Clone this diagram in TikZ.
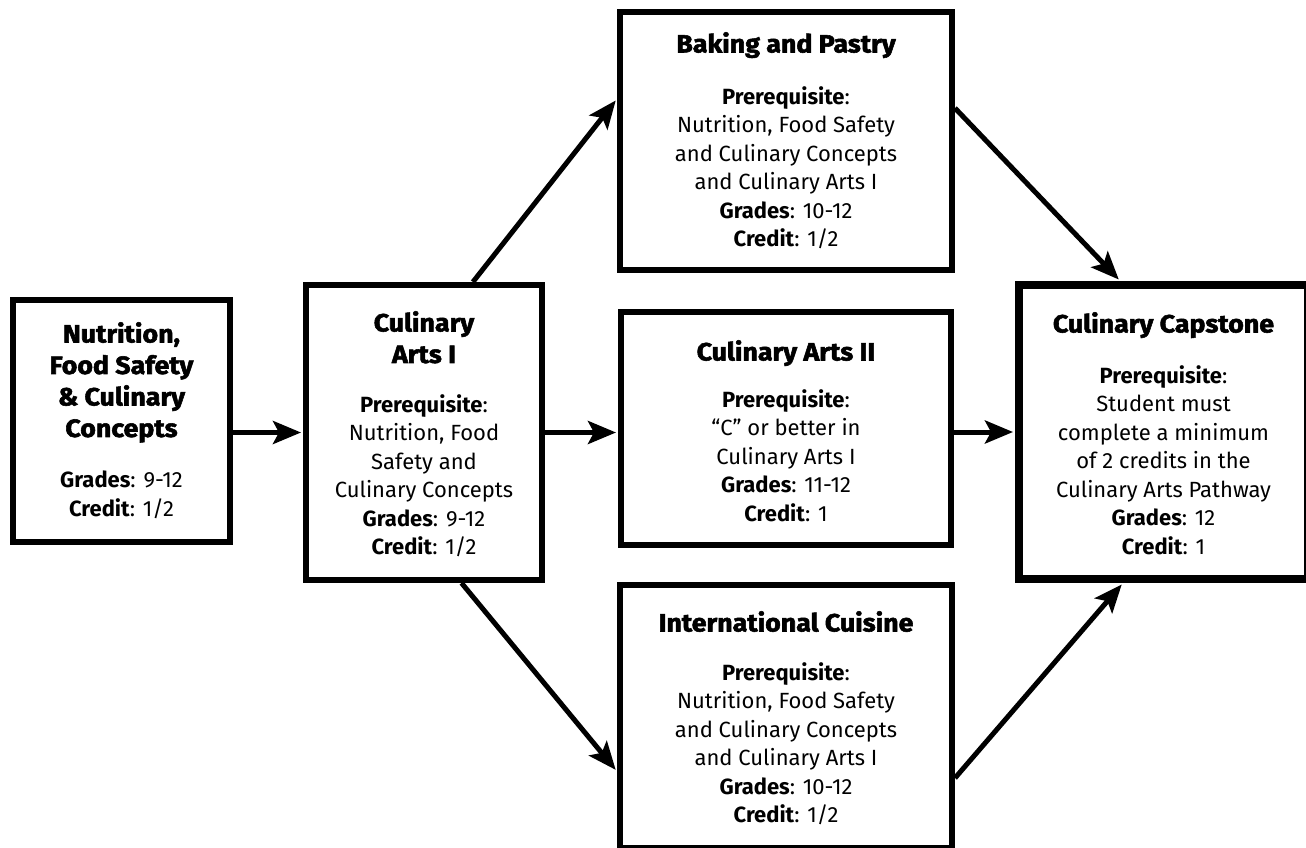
\documentclass[tikz,border=0pt]{standalone}
\usepackage{fontspec}
\setmainfont{Fira Sans}
\newfontfamily\heavyfont{Fira Sans}[BoldFeatures={FakeBold=2.2, FakeStretch=1.07}]
\usetikzlibrary{arrows.meta}
\begin{document}
\begin{tikzpicture}[x=1pt,y=-1pt,
  box/.style={draw, line width=6pt, inner sep=0pt},
  capbox/.style={draw, line width=8pt, inner sep=0pt},
  ttl/.style={anchor=north, inner sep=0pt, align=center, font=\heavyfont\bfseries\fontsize{25}{31.5}\selectfont},
  bdy/.style={anchor=north, inner sep=0pt, align=center, font=\fontsize{22}{28.5}\selectfont},
  arr/.style={line width=5pt, shorten >=2pt, -{Stealth[length=28pt,width=23pt,inset=6pt]}}]
\useasboundingbox (0,0) rectangle (1306,848);
% boxes
\node[box, minimum width=217pt, minimum height=242pt] (b1) at (121.5,421) {};
\node[box, minimum width=236pt, minimum height=295pt] (ca1) at (424,432.5) {};
\node[box, minimum width=332pt, minimum height=258pt] (bak) at (786,141) {};
\node[box, minimum width=330pt, minimum height=233pt] (ca2) at (786,428.5) {};
\node[box, minimum width=332pt, minimum height=263pt] (ic) at (786,716.5) {};
\node[capbox, minimum width=289pt, minimum height=294pt] (cap) at (1163.5,432) {};
% texts
\node[ttl] (b1t) at (121.5,322) {Nutrition,\\Food Safety\\\& Culinary\\Concepts};
\node[bdy] (b1b) at (121.5,471) {\textbf{Grades}: 9-12\\\textbf{Credit}: 1/2};
\node[ttl] (ca1t) at (424,311) {Culinary\\Arts I};
\node[bdy] (ca1b) at (424,394) {\textbf{Prerequisite}:\\Nutrition, Food\\Safety and\\Culinary Concepts\\\textbf{Grades}: 9-12\\\textbf{Credit}: 1/2};
\node[ttl] (bakt) at (786,32) {Baking and Pastry};
\node[bdy] (bakb) at (786,86) {\textbf{Prerequisite}:\\Nutrition, Food Safety\\and Culinary Concepts\\and Culinary Arts I\\\textbf{Grades}: 10-12\\\textbf{Credit}: 1/2};
\node[ttl] (ca2t) at (786,340) {Culinary Arts II};
\node[bdy] (ca2b) at (786,389) {\textbf{Prerequisite}:\\“C” or better in\\Culinary Arts I\\\textbf{Grades}: 11-12\\\textbf{Credit}: 1};
\node[ttl] (ict) at (786,611) {International Cuisine};
\node[bdy] (icb) at (786,662) {\textbf{Prerequisite}:\\Nutrition, Food Safety\\and Culinary Concepts\\and Culinary Arts I\\\textbf{Grades}: 10-12\\\textbf{Credit}: 1/2};
\node[ttl] (capt) at (1163.5,312) {Culinary Capstone};
\node[bdy] (capb) at (1163.5,365) {\textbf{Prerequisite}:\\Student must\\complete a minimum\\of 2 credits in the\\Culinary Arts Pathway\\\textbf{Grades}: 12\\\textbf{Credit}: 1};
% arrows
\draw[arr] (b1.east |- ca1.west) -- (ca1.west);
\draw[arr] (ca1.east) -- (ca1.east -| ca2.west);
\draw[arr] (ca2.east |- cap.west) -- (cap.west);
\draw[arr] (ca1.72) -- (bak.166);
\draw[arr] (bak.11) -- (cap.106);
\draw[arr] (ca1.284) -- (ic.198);
\draw[arr] (ic.340) -- (cap.255);
\end{tikzpicture}
\end{document}
